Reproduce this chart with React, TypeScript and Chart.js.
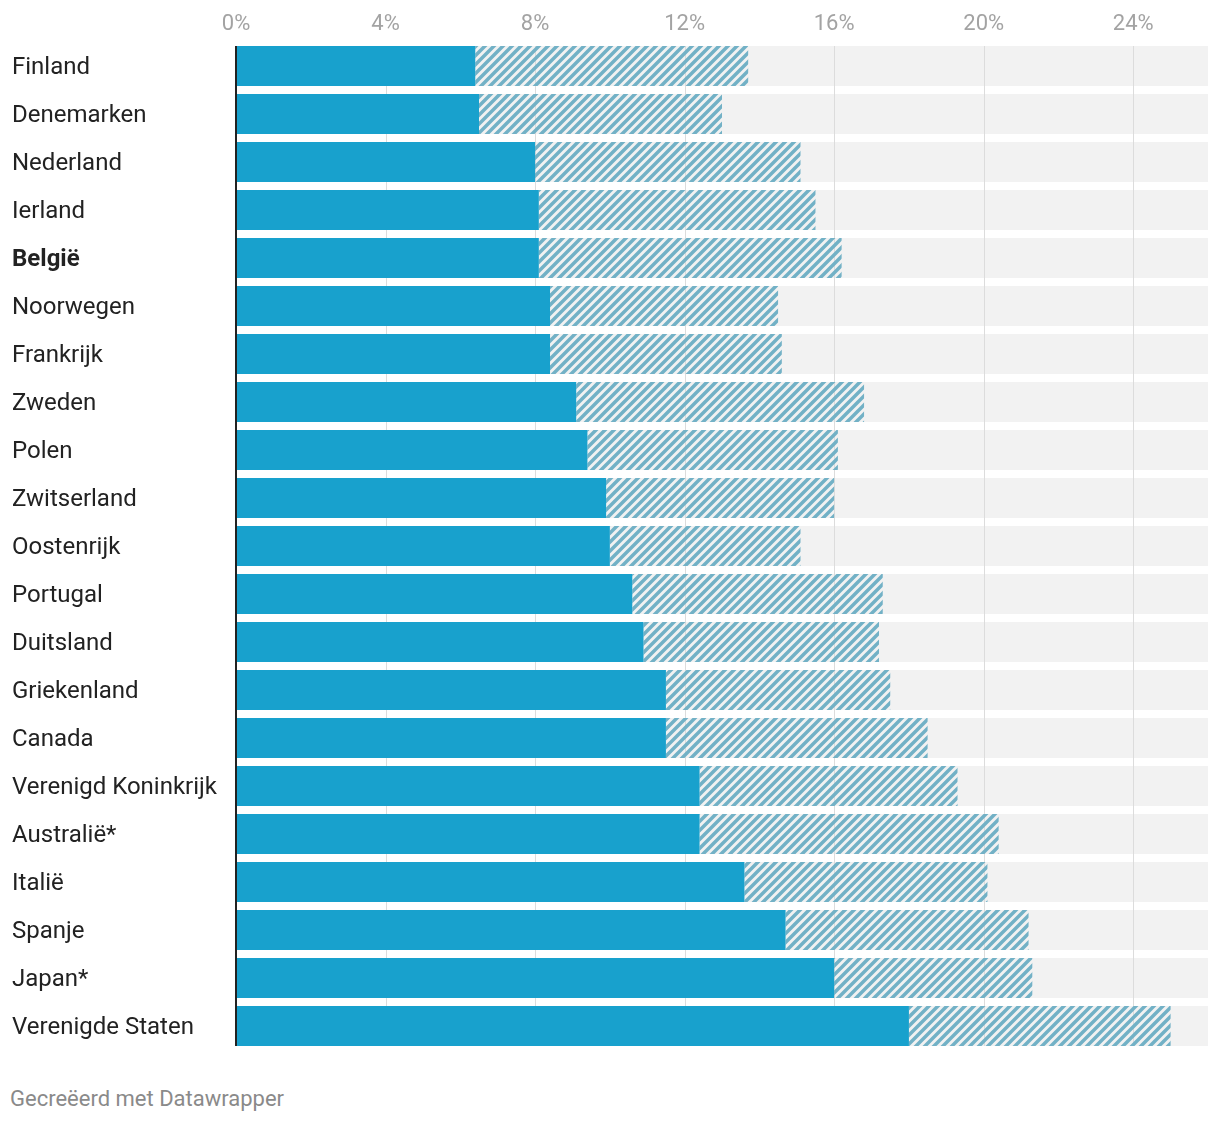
import React, { useEffect, useRef } from "react";
import { Chart, registerables } from "chart.js";

Chart.register(...registerables);

const countries = [
  "Finland", "Denemarken", "Nederland", "Ierland", "België", "Noorwegen", "Frankrijk",
  "Zweden", "Polen", "Zwitserland", "Oostenrijk", "Portugal", "Duitsland", "Griekenland",
  "Canada", "Verenigd Koninkrijk", "Australië*", "Italië", "Spanje", "Japan*", "Verenigde Staten",
];
const solidValues = [
  6.4, 6.5, 8.0, 8.1, 8.1, 8.4, 8.4, 9.1, 9.4, 9.9, 10.0, 10.6, 10.9, 11.5, 11.5, 12.4, 12.4, 13.6, 14.7, 16.0, 18.0,
];
const totalValues = [
  13.7, 13.0, 15.1, 15.5, 16.2, 14.5, 14.6, 16.8, 16.1, 16.0, 15.1, 17.3, 17.2, 17.5, 18.5, 19.3, 20.4, 20.1, 21.2, 21.3, 25.0,
];
const axisMax = 26;
const tickStep = 4;
const boldLabel = "België";

const BLUE = "#18a1cd";
const HATCH = "#72b1c6";
const BG = "#f2f2f2";
const GRID = "#dcdcdc";
const FONT = "Roboto, 'Noto Sans', sans-serif";

function makeHatch(): CanvasPattern | string {
  const n = 9;
  const c = document.createElement("canvas");
  c.width = n;
  c.height = n;
  const ctx = c.getContext("2d");
  if (!ctx) return HATCH;
  ctx.strokeStyle = HATCH;
  ctx.lineWidth = 3.5;
  ctx.lineCap = "square";
  ctx.beginPath();
  ctx.moveTo(-3, 3);
  ctx.lineTo(3, -3);
  ctx.moveTo(-1, n + 1);
  ctx.lineTo(n + 1, -1);
  ctx.moveTo(n - 3, n + 3);
  ctx.lineTo(n + 3, n - 3);
  ctx.stroke();
  const p = ctx.createPattern(c, "repeat");
  return p || HATCH;
}

const decorPlugin = {
  id: "decor",
  beforeDatasetsDraw(chart: any) {
    const { ctx } = chart;
    const xs = chart.scales.x;
    const bars = chart.getDatasetMeta(0).data as any[];
    if (!bars.length) return;
    const x0 = xs.getPixelForValue(0);
    const x1 = xs.getPixelForValue(axisMax);
    ctx.save();
    ctx.fillStyle = BG;
    bars.forEach((b) => {
      const h = b.height;
      ctx.fillRect(x0, b.y - h / 2, x1 - x0, h);
    });
    const top = bars[0].y - bars[0].height / 2;
    const last = bars[bars.length - 1];
    const bottom = last.y + last.height / 2;
    ctx.strokeStyle = GRID;
    ctx.lineWidth = 1;
    for (let v = tickStep; v < axisMax; v += tickStep) {
      const px = Math.round(xs.getPixelForValue(v)) + 0.5;
      ctx.beginPath();
      ctx.moveTo(px, top);
      ctx.lineTo(px, bottom);
      ctx.stroke();
    }
    ctx.restore();
  },
  afterDatasetsDraw(chart: any) {
    const { ctx } = chart;
    const xs = chart.scales.x;
    const bars = chart.getDatasetMeta(0).data as any[];
    if (!bars.length) return;
    const top = bars[0].y - bars[0].height / 2;
    const last = bars[bars.length - 1];
    const bottom = last.y + last.height / 2;
    const px = xs.getPixelForValue(0);
    ctx.save();
    ctx.strokeStyle = "#222222";
    ctx.lineWidth = 2;
    ctx.beginPath();
    ctx.moveTo(px, top);
    ctx.lineTo(px, bottom);
    ctx.stroke();
    ctx.restore();
  },
};

export default function App() {
  const ref = useRef<HTMLCanvasElement | null>(null);

  useEffect(() => {
    if (!ref.current) return;
    const hatch = makeHatch();
    const chart = new Chart(ref.current, {
      type: "bar",
      data: {
        labels: countries,
        datasets: [
          {
            label: "solid",
            data: solidValues,
            backgroundColor: BLUE,
            borderWidth: 0,
            barPercentage: 40 / 48,
            categoryPercentage: 1,
          },
          {
            label: "hatched",
            data: totalValues.map((t, i) => t - solidValues[i]),
            backgroundColor: hatch as any,
            borderWidth: 0,
            barPercentage: 40 / 48,
            categoryPercentage: 1,
          },
        ],
      },
      options: {
        indexAxis: "y",
        animation: false,
        responsive: false,
        maintainAspectRatio: false,
        layout: { padding: { left: 12, right: 12, top: 0, bottom: 10 } },
        plugins: {
          legend: { display: false },
          tooltip: { enabled: false },
        },
        scales: {
          x: {
            position: "top",
            stacked: true,
            min: 0,
            max: axisMax,
            grid: { display: false, drawTicks: false },
            border: { display: false },
            ticks: {
              stepSize: tickStep,
              includeBounds: false,
              padding: 4,
              color: "#a3a3a3",
              font: { family: FONT, size: 22, weight: "normal" },
              callback: (v: any) => `${v}%`,
            },
            afterFit: (s: any) => {
              s.height = 42;
              s.paddingLeft = 0;
              s.paddingRight = 0;
            },
          },
          y: {
            stacked: true,
            grid: { display: false, drawTicks: false },
            border: { display: false },
            ticks: {
              crossAlign: "far",
              padding: 0,
              labelOffset: 2,
              color: "#222222",
              font: (c: any) => ({
                family: FONT,
                size: 24,
                weight: c.tick && c.tick.label === boldLabel ? "bold" : "normal",
              }),
            },
            afterFit: (s: any) => {
              s.width = 224;
              s.paddingTop = 0;
              s.paddingBottom = 0;
            },
          },
        },
      },
      plugins: [decorPlugin],
    });
    return () => chart.destroy();
  }, []);

  return (
    <div style={{ position: "absolute", left: 0, top: 0, width: 1220, height: 1122, background: "#fff" }}>
      <canvas ref={ref} width={1220} height={1060} style={{ position: "absolute", left: 0, top: 0 }} />
      <div
        style={{
          position: "absolute",
          left: 10,
          top: 1086,
          fontFamily: FONT,
          fontSize: 22,
          color: "#8a8a8a",
          lineHeight: "26px",
          whiteSpace: "nowrap",
        }}
      >
        Gecreëerd met Datawrapper
      </div>
    </div>
  );
}
